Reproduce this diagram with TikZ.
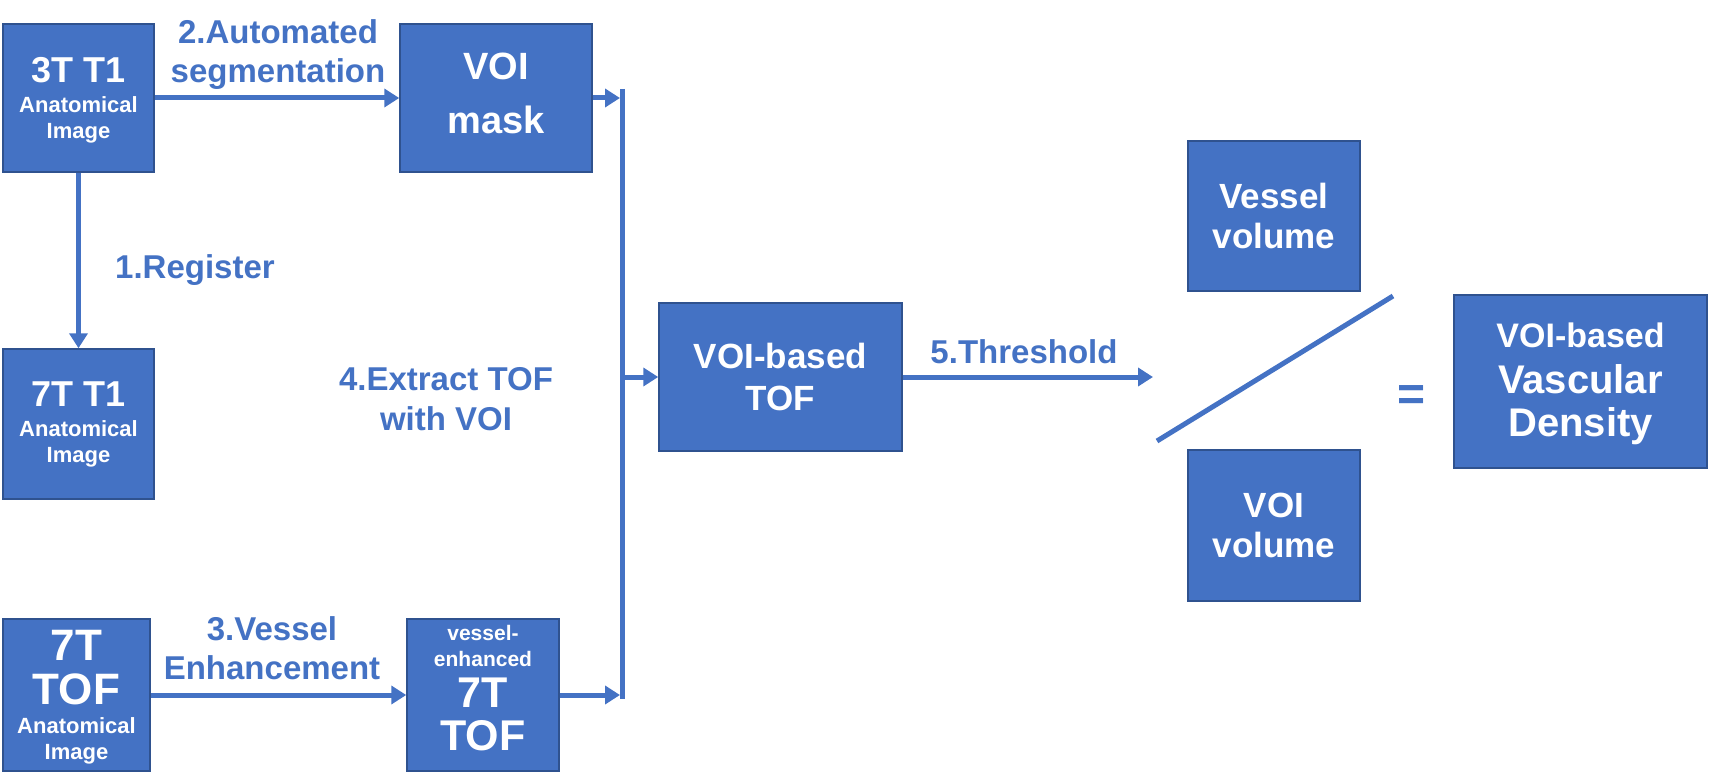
\documentclass[tikz,border=0pt]{standalone}
\usepackage{fontspec}
\setmainfont{Liberation Sans}
\usepackage{xcolor}
\usepackage{tikz}
\usetikzlibrary{arrows.meta}

\definecolor{boxfill}{HTML}{4472C4}
\definecolor{boxline}{HTML}{2F528F}
\lineskiplimit=-\maxdimen

\newcommand{\txtsize}[1]{\fontsize{#1}{#1}\selectfont}

\tikzset{
  box/.style args={#1/#2}{draw=boxline, fill=boxfill, line width=1.5pt, text=white,
    align=center, inner sep=0pt, font=\bfseries\fontsize{#1}{#2}\selectfont},
  steplabel/.style={text=boxfill, align=center, inner sep=0pt,
    font=\bfseries\fontsize{33}{#1}\selectfont},
  flow/.style={draw=boxfill, line width=5pt, -{Triangle[length=15pt,width=18pt]}},
  busline/.style={draw=boxfill, line width=5pt},
}

\begin{document}
\begin{tikzpicture}[x=1pt, y=-1pt]
  \useasboundingbox (0,0) rectangle (1709,781);

  % input images
  \node[box=22/26, text depth=-4pt, minimum width=151pt, minimum height=148pt] (t3) at (78.5,98)
    {{\txtsize{36}3T T1}\\[4pt]Anatomical\\Image};
  \node[box=22/26, minimum width=151pt, minimum height=150pt] (t7) at (78.5,424)
    {{\txtsize{36}7T T1}\\[4pt]Anatomical\\Image};
  \node[box=22/26, text depth=-1pt, minimum width=147pt, minimum height=152pt] (tof7) at (76.5,695)
    {{\txtsize{44}7T}\\[18pt]{\txtsize{44}TOF}\\[3pt]Anatomical\\Image};

  % intermediate results
  \node[box=38/54, text depth=10pt, minimum width=192pt, minimum height=148pt] (mask) at (496,98)
    {VOI\\mask};
  \node[box=21/26, text depth=14pt, minimum width=152pt, minimum height=152pt] (vetof) at (483,695)
    {vessel-\\enhanced\\[15pt]{\txtsize{43}7T}\\[17pt]{\txtsize{43}TOF}};
  \node[box=35/42, minimum width=243pt, minimum height=148pt] (voitof) at (780.5,377)
    {VOI-based\\TOF};

  % ratio
  \node[box=35/40, minimum width=172pt, minimum height=150pt] (vesvol) at (1274,216)
    {Vessel\\volume};
  \node[box=35/40, minimum width=172pt, minimum height=151pt] (voivol) at (1274,525.5)
    {VOI\\volume};
  \node[box=40/43, text depth=4pt, minimum width=253pt, minimum height=173pt] (density) at (1580.5,381.5)
    {{\txtsize{34}VOI-based}\\[3pt]Vascular\\Density};
  \node[text=boxfill, font=\bfseries\fontsize{48}{48}\selectfont, inner sep=0pt] (eq) at (1412,398.5) {=};

  % step labels
  \node[steplabel=39] (lab2) at (278,55) {2.Automated\\segmentation};
  \node[steplabel=39] (lab1) at (195,270) {1.Register};
  \node[steplabel=40] (lab4) at (446,399) {4.Extract TOF\\with VOI};
  \node[steplabel=39] (lab3) at (272,648.5) {3.Vessel\\Enhancement};
  \node[steplabel=39] (lab5) at (1024,352) {5.Threshold};

  \coordinate (busTop) at (622,89);
  \coordinate (busBot) at (622,699);
  \coordinate (thrEnd) at (1153,377);
  \coordinate (slashLo) at (1157,441);
  \coordinate (slashHi) at (1393,296);

  % connectors
  \draw[flow] (t3) -- (mask);
  \draw[flow] (t3) -- (t7);
  \draw[flow, shorten >=2pt] (mask.east) -- (busTop |- mask.east);
  \draw[busline] (busTop) -- (busBot);
  \draw[flow] (busTop |- voitof.west) -- (voitof.west);
  \draw[flow] (tof7) -- (vetof);
  \draw[flow, shorten >=2pt] (vetof.east) -- (busTop |- vetof.east);
  \draw[flow] (voitof) -- (thrEnd);
  \draw[busline] (slashLo) -- (slashHi);
\end{tikzpicture}
\end{document}
